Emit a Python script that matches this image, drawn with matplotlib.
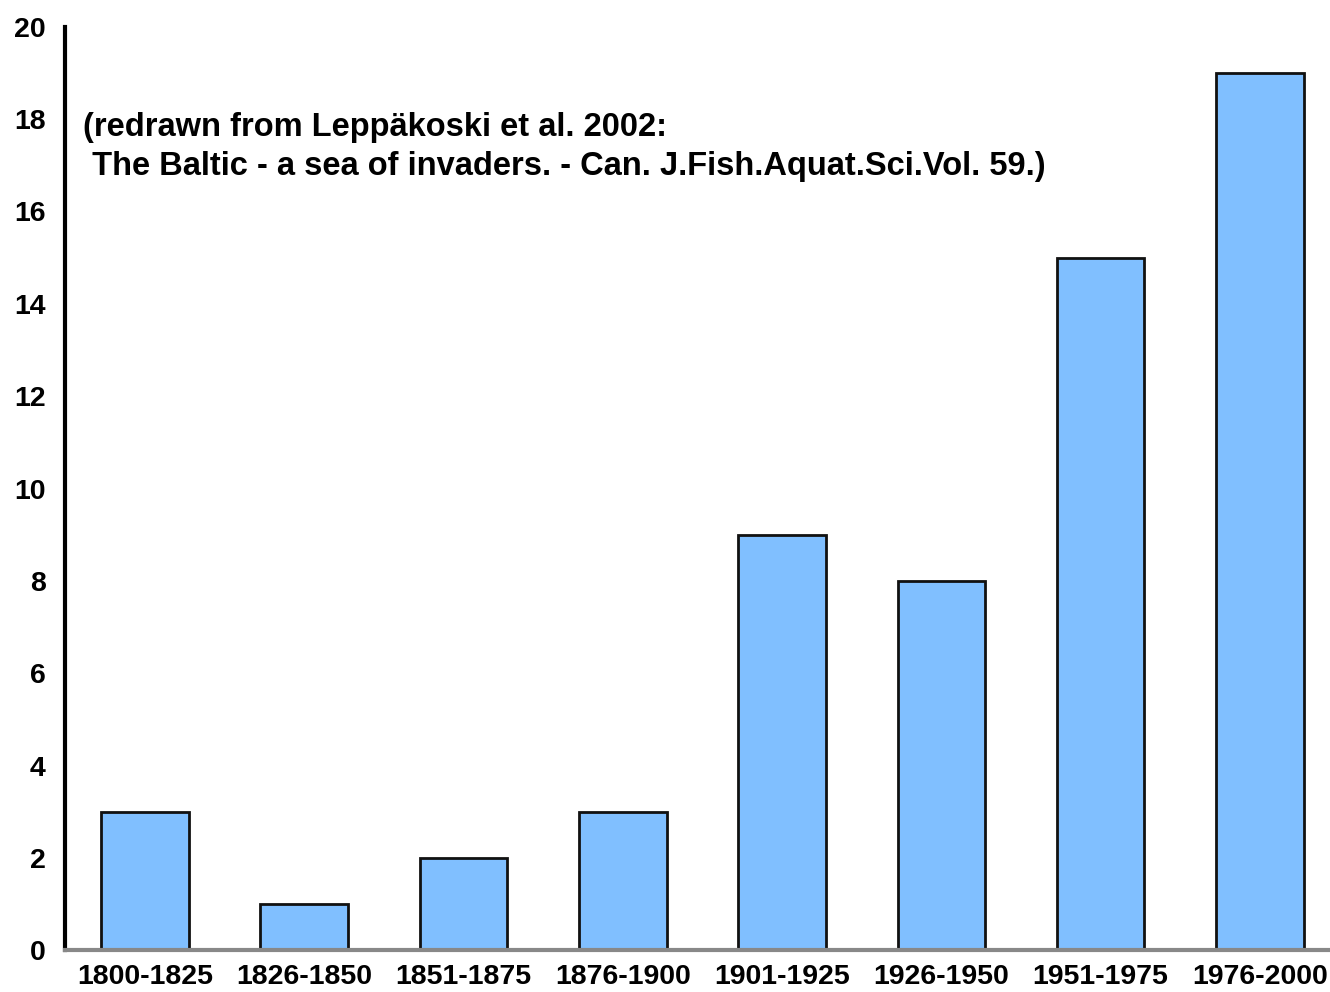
import numpy as np
import matplotlib.pyplot as plt

periods = ['1800-1825', '1826-1850', '1851-1875', '1876-1900',
           '1901-1925', '1926-1950', '1951-1975', '1976-2000']
counts = [3, 1, 2, 3, 9, 8, 15, 19]
yticks = [0, 2, 4, 6, 8, 10, 12, 14, 16, 18, 20]
note = '(redrawn from Leppäkoski et al. 2002:\n The Baltic - a sea of invaders. - Can. J.Fish.Aquat.Sci.Vol. 59.)'

plt.rcParams['font.family'] = ['Liberation Sans', 'DejaVu Sans']

fig = plt.figure(figsize=(13.3, 9.92), dpi=100)
ax = fig.add_axes([0.049, 0.042, 0.951, 0.931])

x = np.arange(len(periods))
ax.bar(x, counts, width=0.55, color='#80BFFF', edgecolor='#111111', linewidth=2, zorder=2)

ax.set_xlim(-0.5, 7.44)
ax.set_ylim(0, 20)
ax.set_xticks(x)
ax.set_xticklabels(periods, fontsize=20.5, fontweight='bold')
ax.set_yticks(yticks)
ax.set_yticklabels([str(v) for v in yticks], fontsize=20.5, fontweight='bold')
ax.tick_params(axis='both', length=0)
ax.tick_params(axis='y', pad=14)
ax.tick_params(axis='x', pad=10)

for s in ['top', 'right']:
    ax.spines[s].set_visible(False)
ax.spines['left'].set_linewidth(3)
ax.spines['left'].set_color('black')
ax.spines['bottom'].set_linewidth(3)
ax.spines['bottom'].set_color('#888888')

# note placed in figure inches
fig.text(83 / 100, (992 - 147) / 100, note, transform=fig.dpi_scale_trans,
         fontsize=23.5, fontweight='bold', va='center', ha='left', linespacing=1.35)

fig.savefig('out.png', dpi=100)
